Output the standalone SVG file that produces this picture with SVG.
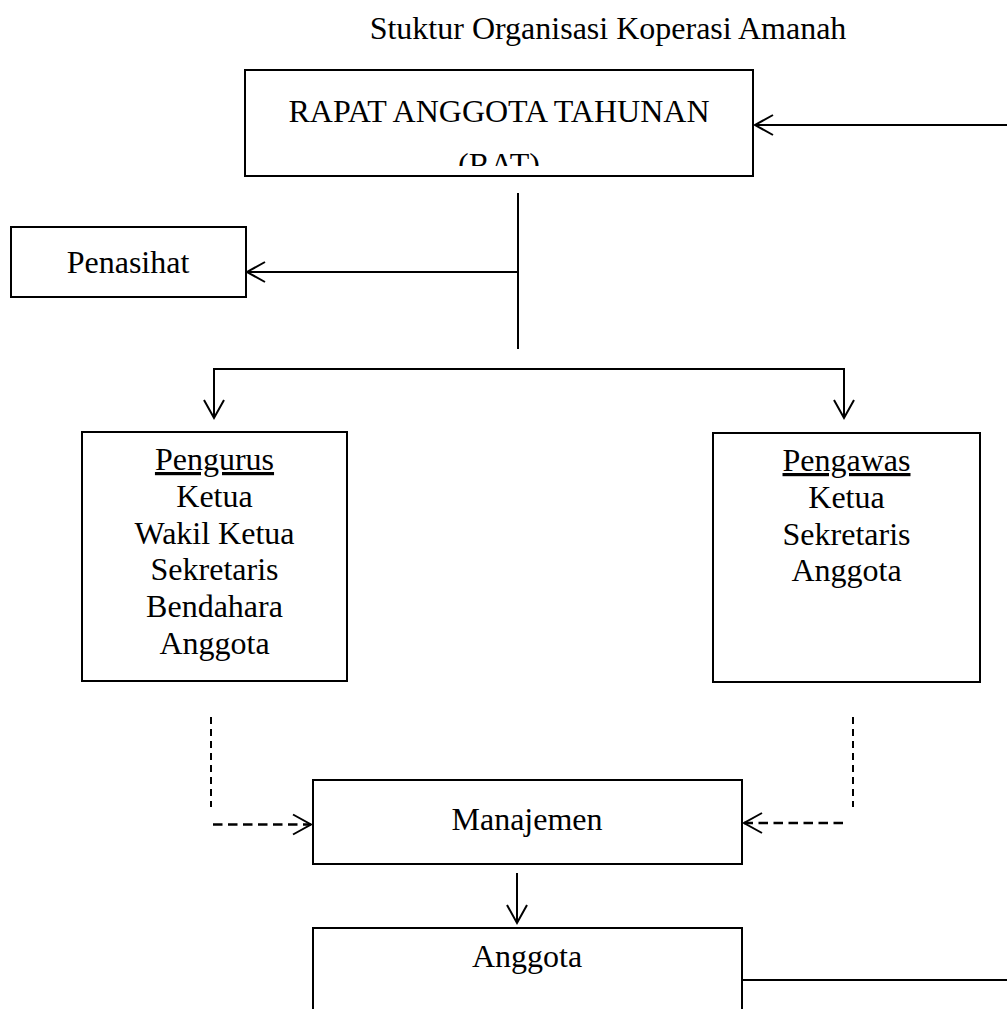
<svg xmlns="http://www.w3.org/2000/svg" width="1007" height="1009" viewBox="0 0 1007 1009">
<style>
.box{fill:#fff;stroke:#000;stroke-width:2}
.ln{fill:none;stroke:#000;stroke-width:2}
.dashv{fill:none;stroke:#000;stroke-width:2;stroke-dasharray:7,5}
.dashh{fill:none;stroke:#000;stroke-width:2.5;stroke-dasharray:9.5,5.5}
text{font-family:"Liberation Serif","Times New Roman",serif;font-size:32px;fill:#000;text-anchor:middle}
</style>
<defs>
<marker id="arr" markerUnits="userSpaceOnUse" markerWidth="24" markerHeight="24" viewBox="-20 -12 22 24" refX="0" refY="0" orient="auto">
<path d="M-18,-10 L0,0 L-18,10" fill="none" stroke="#000" stroke-width="2"/>
</marker>
<clipPath id="ratclip"><rect x="246" y="71" width="506" height="95"/></clipPath>
</defs>
<rect width="1007" height="1009" fill="#fff"/>
<text id="title" x="608" y="39">Stuktur Organisasi Koperasi Amanah</text>
<g id="connectors">
<line class="ln" x1="1007" y1="125" x2="755" y2="125" marker-end="url(#arr)"/>
<line class="ln" x1="518" y1="193" x2="518" y2="349"/>
<line class="ln" x1="518" y1="272" x2="247" y2="272" marker-end="url(#arr)"/>
<polyline class="ln" points="214,418 214,369 844,369 844,418"/>
<line class="ln" x1="214" y1="400" x2="214" y2="418" marker-end="url(#arr)"/>
<line class="ln" x1="844" y1="400" x2="844" y2="418" marker-end="url(#arr)"/>
<line class="dashv" x1="211" y1="717" x2="211" y2="807"/>
<line class="dashh" x1="213" y1="824.5" x2="311" y2="824.5" marker-end="url(#arr)"/>
<line class="dashv" x1="853" y1="717" x2="853" y2="807"/>
<line class="dashh" x1="843" y1="823" x2="744" y2="823" marker-end="url(#arr)"/>
<line class="ln" x1="517" y1="873" x2="517" y2="923" marker-end="url(#arr)"/>
<line class="ln" x1="742" y1="980" x2="1007" y2="980"/>
</g>
<g id="rat">
<rect class="box" x="245" y="70" width="508" height="106"/>
<text x="499" y="122">RAPAT ANGGOTA TAHUNAN</text>
<text x="499" y="174.5" clip-path="url(#ratclip)">(RAT)</text>
</g>
<g id="penasihat">
<rect class="box" x="11" y="227" width="235" height="70"/>
<text x="128" y="273">Penasihat</text>
</g>
<g id="pengurus">
<rect class="box" x="82" y="432" width="265" height="249"/>
<text x="214.5" y="470"><tspan text-decoration="underline">Pengurus</tspan></text>
<text x="214.5" y="507">Ketua</text>
<text x="214.5" y="543.5">Wakil Ketua</text>
<text x="214.5" y="580">Sekretaris</text>
<text x="214.5" y="617">Bendahara</text>
<text x="214.5" y="653.5">Anggota</text>
</g>
<g id="pengawas">
<rect class="box" x="713" y="433" width="267" height="249"/>
<text x="846.5" y="471"><tspan text-decoration="underline">Pengawas</tspan></text>
<text x="846.5" y="508">Ketua</text>
<text x="846.5" y="544.5">Sekretaris</text>
<text x="846.5" y="581">Anggota</text>
</g>
<g id="manajemen">
<rect class="box" x="313" y="780" width="429" height="84"/>
<text x="527" y="830">Manajemen</text>
</g>
<g id="anggota">
<path class="ln" d="M313,1010 V928 H742 V1010"/>
<text x="527" y="967">Anggota</text>
</g>
</svg>
